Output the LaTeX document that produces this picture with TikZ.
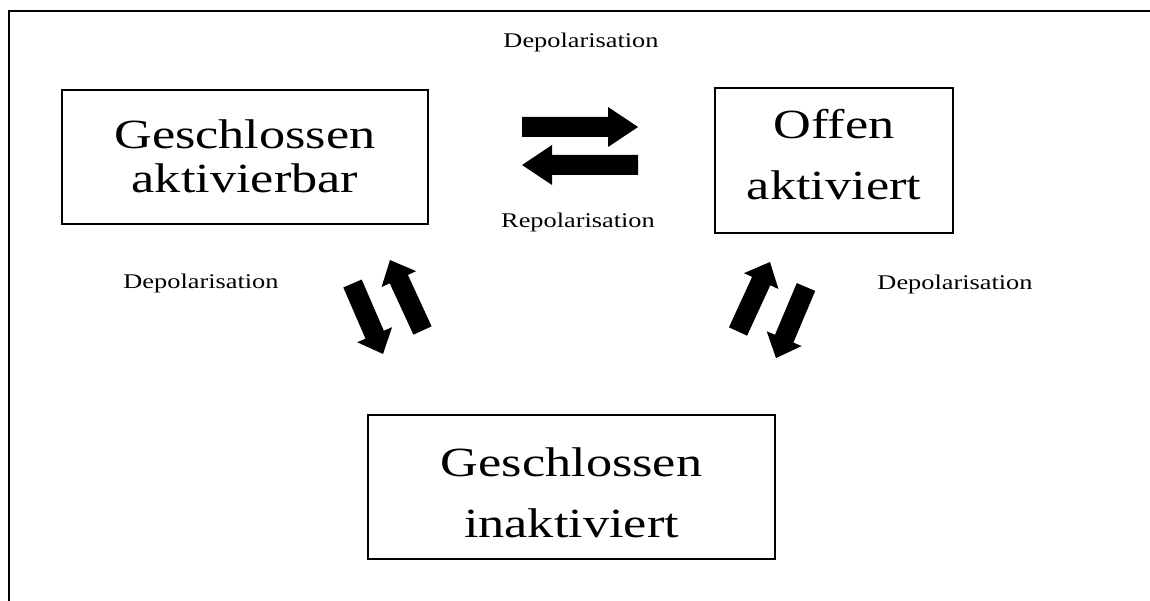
\documentclass[tikz,border=0pt]{standalone}
\usepackage{fontspec}
\newfontfamily\wideserif{Liberation Serif}[FakeStretch=1.26]
\newcommand{\blockarrow}[5]{% tail, angle, length, head length, head half-width
  \fill[shift={(#1)}, rotate=#2] (0,-10) -- (#3-#4,-10) -- (#3-#4,-#5) -- (#3,0)
     -- (#3-#4,#5) -- (#3-#4,10) -- (0,10) -- cycle;}
\begin{document}
\begin{tikzpicture}[x=1pt,y=-1pt,
  statebox/.style={draw, line width=1.6pt, inner sep=0pt, align=center, anchor=north},
  lbl/.style={inner sep=0pt, anchor=base, font=\wideserif\fontsize{20.9pt}{23pt}\selectfont}]
\useasboundingbox (0,0) rectangle (1150,601);
% outer frame (cut off at right and bottom)
\draw[line width=2pt] (9.3,601) -- (9.3,11) -- (1150,11);

% states
\node[statebox, minimum width=366pt, text height=103pt, text depth=31pt,
      font=\wideserif\fontsize{41.5pt}{44pt}\selectfont] (closedA) at (245,89)
      {Geschlossen\\aktivierbar};
\node[statebox, minimum width=238pt, text height=111.3pt, text depth=33.7pt,
      font=\wideserif\fontsize{41.5pt}{61pt}\selectfont] (open) at (834,87)
      {Offen\\aktiviert};
\node[statebox, minimum width=407pt, text height=122.7pt, text depth=21.3pt,
      font=\wideserif\fontsize{41.5pt}{61.5pt}\selectfont] (closedI) at (571.5,414)
      {Geschlossen\\inaktiviert};

% labels
\node[lbl] (lTop) at (581,48) {Depolarisation};
\node[lbl] (lRep) at (578,228) {Repolarisation};
\node[lbl] (lLeft) at (201,289) {Depolarisation};
\node[lbl] (lRight) at (955,290) {Depolarisation};

% block arrows
\coordinate (hA) at (522,127);
\coordinate (hB) at (638,165);
\coordinate (dLa) at (352.5,283.5);
\coordinate (dLb) at (422.5,330.5);
\coordinate (dRa) at (738,331.5);
\coordinate (dRb) at (806,287);
\blockarrow{hA}{0}{116}{30}{20}
\blockarrow{hB}{180}{116}{30}{20}
\blockarrow{dLa}{-66.6}{76.8}{21}{19}
\blockarrow{dLb}{114.75}{77.6}{21}{19}
\blockarrow{dRa}{65.3}{76.5}{21}{19}
\blockarrow{dRb}{-112.9}{77.1}{21}{19}
\end{tikzpicture}
\end{document}
